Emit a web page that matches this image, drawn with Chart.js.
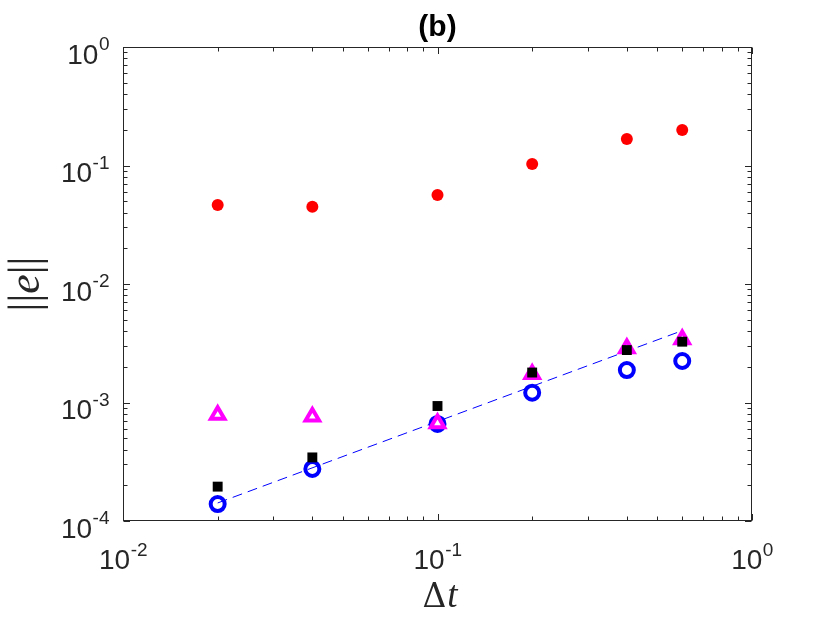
<!DOCTYPE html>
<html><head><meta charset="utf-8">
<script src="https://cdn.jsdelivr.net/npm/chart.js@4"></script>
<style>html,body{margin:0;padding:0;background:#fff;overflow:hidden;}</style>
</head><body>
<canvas id="c" width="830" height="623" style="display:block;width:830px;height:623px"></canvas>
<script>
// ---- data ----
const dtValues     = [0.02, 0.04, 0.1, 0.2, 0.4, 0.6];
const errRed       = [0.0464, 0.0449, 0.0564, 0.103, 0.167, 0.1995];
const errSquare    = [1.95e-4, 3.44e-4, 9.34e-4, 1.79e-3, 2.77e-3, 3.26e-3];
const errTriangle  = [7.85e-4, 7.59e-4, 6.67e-4, 1.74e-3, 2.87e-3, 3.41e-3];
const errCircle    = [1.39e-4, 2.75e-4, 6.59e-4, 1.21e-3, 1.88e-3, 2.24e-3];
const refLineX     = [0.02, 0.6];
const refLineY     = [1.42e-4, 4.04e-3];
const xTickExps    = [-2, -1, 0];
const yTickExps    = [-4, -3, -2, -1, 0];
const titleText    = '(b)';

const pts = (xs, ys) => xs.map((x, i) => ({x: x, y: ys[i]}));
const AXC = '#262626';
const SANS = '"Liberation Sans", Arial, Helvetica, sans-serif';
const BASE_F = '28px ' + SANS;
const SUP_F = '19px ' + SANS;

function drawPow(ctx, exp, x, y, align, raise) {
  ctx.font = BASE_F;
  const bw = ctx.measureText('10').width;
  ctx.font = SUP_F;
  const sup = String(exp);
  const sw = ctx.measureText(sup).width;
  const tot = bw + sw;
  const x0 = align === 'right' ? x - tot : x - tot / 2;
  ctx.textAlign = 'left';
  ctx.textBaseline = 'alphabetic';
  ctx.font = BASE_F;
  ctx.fillText('10', x0, y);
  ctx.font = SUP_F;
  ctx.fillText(sup, x0 + bw + 0.5, y - raise);
}

const matlabAxes = {
  id: 'matlabAxes',
  afterDraw(chart) {
    const ctx = chart.ctx, a = chart.chartArea;
    const xs = chart.scales.x, ys = chart.scales.y;
    ctx.save();
    ctx.strokeStyle = AXC;
    ctx.lineWidth = 1;
    const L = Math.round(a.left) + 0.5, R = Math.round(a.right) - 0.5;
    const T = Math.round(a.top) + 0.5, B = Math.round(a.bottom) - 0.5;
    ctx.strokeRect(L, T, R - L, B - T);
    ctx.beginPath();
    // x ticks
    for (let e = xTickExps[0]; e <= xTickExps[xTickExps.length - 1]; e++) {
      for (let m = 1; m <= 9; m++) {
        if (e === xTickExps[xTickExps.length - 1] && m > 1) break;
        const v = m * Math.pow(10, e);
        const px = Math.round(xs.getPixelForValue(v)) + 0.5;
        const len = m === 1 ? 6.5 : 4;
        ctx.moveTo(px, B); ctx.lineTo(px, B - len);
        ctx.moveTo(px, T); ctx.lineTo(px, T + len);
      }
    }
    // y ticks
    for (let e = yTickExps[0]; e <= yTickExps[yTickExps.length - 1]; e++) {
      for (let m = 1; m <= 9; m++) {
        if (e === yTickExps[yTickExps.length - 1] && m > 1) break;
        const v = m * Math.pow(10, e);
        const py = Math.round(ys.getPixelForValue(v)) + 0.5;
        const len = m === 1 ? 6.5 : 4;
        ctx.moveTo(L, py); ctx.lineTo(L + len, py);
        ctx.moveTo(R, py); ctx.lineTo(R - len, py);
      }
    }
    ctx.stroke();

    // tick labels
    ctx.fillStyle = AXC;
    xTickExps.forEach(e => {
      const px = xs.getPixelForValue(Math.pow(10, e));
      drawPow(ctx, e, px, a.bottom + 48, 'center', 13.5);
    });
    yTickExps.forEach(e => {
      const py = ys.getPixelForValue(Math.pow(10, e));
      drawPow(ctx, e, a.left - 14, py + 16.5, 'right', 13.5);
    });

    // title
    ctx.fillStyle = '#000';
    ctx.font = 'bold 30px ' + SANS;
    ctx.textAlign = 'center';
    ctx.fillText(titleText, (a.left + a.right) / 2, 36);

    // x label: Δt
    ctx.fillStyle = AXC;
    ctx.textAlign = 'left';
    const fD = '33px "DejaVu Serif", serif';
    const fT = 'italic 37px "Liberation Serif", "Times New Roman", serif';
    ctx.font = fD; const wD = ctx.measureText('Δ').width;
    ctx.font = fT; const wT = ctx.measureText('t').width;
    const cx = (a.left + a.right) / 2 + 2;
    let x0 = cx - (wD + wT) / 2;
    ctx.font = fD; ctx.fillText('Δ', x0, 606.5);
    ctx.font = fT; ctx.fillText('t', x0 + wD + 1, 606.5);

    // y label: ||e||
    ctx.save();
    ctx.translate(38.5, (a.top + a.bottom) / 2);
    ctx.rotate(-Math.PI / 2);
    const fN = '44px "Liberation Serif", "Times New Roman", serif';
    const fI = 'italic 44px "Liberation Serif", "Times New Roman", serif';
    ctx.font = fN; const wb = ctx.measureText('||').width;
    ctx.font = fI; const we = ctx.measureText('e').width;
    let y0 = -(2 * wb + we) / 2;
    ctx.font = fN; ctx.fillText('||', y0, 0);
    ctx.font = fI; ctx.fillText('e', y0 + wb, 0);
    ctx.font = fN; ctx.fillText('||', y0 + wb + we, 0);
    ctx.restore();

    ctx.restore();
  }
};

new Chart(document.getElementById('c'), {
  type: 'scatter',
  data: {
    datasets: [
      { label: 'square', data: pts(dtValues, errSquare), order: 0,
        pointStyle: 'rect', pointRadius: 7, pointBackgroundColor: '#000', pointBorderWidth: 0, showLine: false },
      { label: 'triangle', data: pts(dtValues, errTriangle), order: 1,
        pointStyle: 'triangle', pointRadius: 7.8, pointBackgroundColor: '#fff', pointBorderColor: '#ff00ff', pointBorderWidth: 4, showLine: false },
      { label: 'circle', data: pts(dtValues, errCircle), order: 2,
        pointStyle: 'circle', pointRadius: 7, pointBackgroundColor: 'rgba(0,0,0,0)', pointBorderColor: '#0000ff', pointBorderWidth: 4, showLine: false },
      { label: 'ref', type: 'line', data: pts(refLineX, refLineY), order: 3,
        showLine: true, borderColor: '#0000ff', borderWidth: 1, borderDash: [10, 6], pointRadius: 0, fill: false },
      { label: 'red', data: pts(dtValues, errRed), order: 4,
        pointStyle: 'circle', pointRadius: 6, pointBackgroundColor: '#ff0000', pointBorderWidth: 0, showLine: false }
    ]
  },
  options: {
    responsive: false,
    animation: false,
    devicePixelRatio: 1,
    events: [],
    layout: { padding: { left: 123, top: 47, right: 78, bottom: 102 } },
    plugins: { legend: { display: false }, tooltip: { enabled: false }, title: { display: false } },
    scales: {
      x: { type: 'logarithmic', min: 0.01, max: 1,
           ticks: { display: false }, grid: { display: false, drawTicks: false }, border: { display: false } },
      y: { type: 'logarithmic', min: 1e-4, max: 1,
           ticks: { display: false }, grid: { display: false, drawTicks: false }, border: { display: false } }
    }
  },
  plugins: [matlabAxes]
});
</script>
</body></html>
